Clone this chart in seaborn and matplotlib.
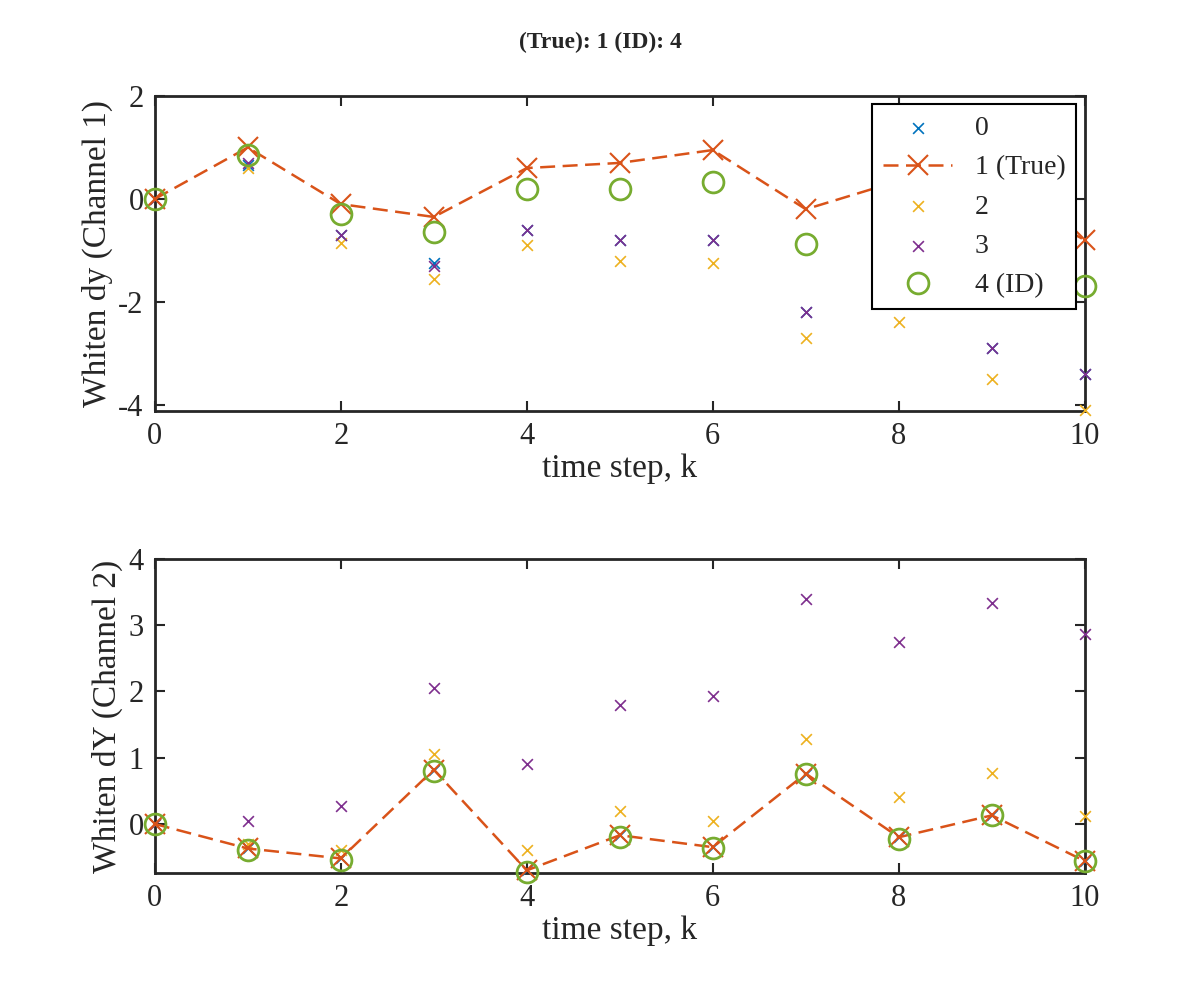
import numpy as np
import seaborn as sns
import matplotlib.pyplot as plt

k = list(range(11))
# channel 1
s0_top = [0, 0.65, -0.7, -1.25, -0.6, -0.8, -0.8, -2.2, -1.8, -2.9, -3.4]
s1_top = [0, 1.0, -0.1, -0.35, 0.6, 0.7, 0.95, -0.2, 0.35, 0.2, -0.8]
s2_top = [0, 0.6, -0.85, -1.55, -0.9, -1.2, -1.25, -2.7, -2.4, -3.5, -4.1]
s3_top = [0, 0.7, -0.7, -1.3, -0.6, -0.8, -0.8, -2.2, -1.8, -2.9, -3.4]
s4_top = [0, 0.85, -0.3, -0.65, 0.2, 0.2, 0.33, -0.87, 0.1, 0.0, -1.7]
# channel 2
s0_bot = [0, -0.37, -0.52, 0.82, -0.7, -0.17, -0.35, 0.76, -0.2, 0.13, -0.56]
s1_bot = [0, -0.37, -0.52, 0.82, -0.7, -0.17, -0.35, 0.76, -0.2, 0.13, -0.56]
s2_bot = [0, -0.3, -0.4, 1.05, -0.4, 0.2, 0.05, 1.28, 0.4, 0.77, 0.12]
s3_bot = [0, 0.05, 0.27, 2.05, 0.9, 1.8, 1.93, 3.4, 2.75, 3.33, 2.87]
s4_bot = [0, -0.4, -0.55, 0.8, -0.72, -0.2, -0.37, 0.75, -0.22, 0.14, -0.56]

sns.set_style('white')
plt.rcParams['font.family'] = ['Liberation Serif', 'DejaVu Serif']
plt.rcParams['axes.unicode_minus'] = False

c0, c1, c2, c3, c4 = '#0072BD', '#D95319', '#EDB120', '#7E2F8E', '#77AC30'

fig = plt.figure(figsize=(12, 10), dpi=100)
ax1 = fig.add_axes([0.129, 0.589, 0.775, 0.315])
ax2 = fig.add_axes([0.129, 0.127, 0.775, 0.314])


def draw(ax, d0, d1, d2, d3, d4, legend):
    sns.scatterplot(x=k, y=d0, ax=ax, marker='x', color=c0, s=60, linewidth=1.2,
                    label='0', clip_on=False, zorder=3)
    sns.lineplot(x=k, y=d1, ax=ax, marker='x', color=c1, markersize=14, mew=1.5,
                 mec=c1, linewidth=1.8, dashes=(6, 3), label='1 (True)', clip_on=False, zorder=4)
    sns.scatterplot(x=k, y=d2, ax=ax, marker='x', color=c2, s=60, linewidth=1.2,
                    label='2', clip_on=False, zorder=3)
    sns.scatterplot(x=k, y=d3, ax=ax, marker='x', color=c3, s=60, linewidth=1.2,
                    label='3', clip_on=False, zorder=3)
    ax.plot(k, d4, 'o', mfc='none', mec=c4, ms=15, mew=2, label='4 (ID)',
            clip_on=False, zorder=5)
    ax.set_xlim(0, 10)
    ax.set_xticks([0, 2, 4, 6, 8, 10])
    ax.set_xlabel('time step, k', fontsize=24, labelpad=2)
    ax.tick_params(labelsize=22, direction='in', length=7, width=1.5,
                   top=True, right=True, bottom=True, left=True, pad=8)
    for sp in ax.spines.values():
        sp.set_linewidth(2)
        sp.set_color('#262626')
    if legend:
        leg = ax.legend(loc='upper right', fontsize=20, fancybox=False, framealpha=1,
                        edgecolor='black', borderaxespad=0.3, handlelength=2.5)
        leg.get_frame().set_linewidth(1.5)
        leg.set_zorder(10)
    else:
        ax.get_legend().remove()


draw(ax1, s0_top, s1_top, s2_top, s3_top, s4_top, True)
ax1.set_ylim(-4.12, 2)
ax1.set_yticks([-4, -2, 0, 2])
ax1.set_ylabel('Whiten dy (Channel 1)', fontsize=24)

draw(ax2, s0_bot, s1_bot, s2_bot, s3_bot, s4_bot, False)
ax2.set_ylim(-0.74, 4)
ax2.set_yticks([0, 1, 2, 3, 4])
ax2.set_ylabel('Whiten dY (Channel 2)', fontsize=24)

fig.text(0.5, 0.952, '(True): 1 (ID): 4', ha='center', fontsize=17, fontweight='bold')
fig.savefig('out.png', dpi=100)
